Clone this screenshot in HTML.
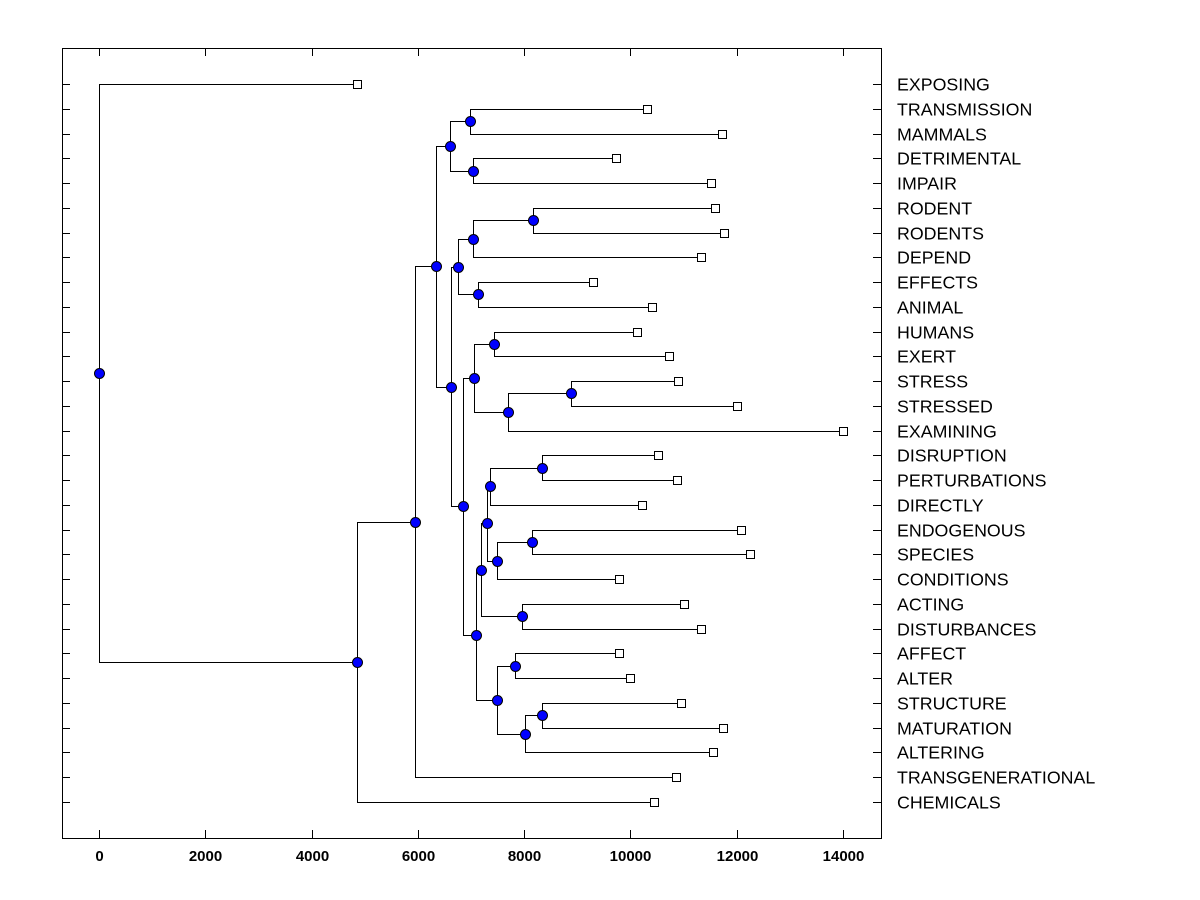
<!DOCTYPE html>
<html><head><meta charset="utf-8"><style>
html,body{margin:0;padding:0;background:#fff;}
svg{display:block;font-family:"Liberation Sans",Arial,sans-serif;}
</style></head><body>
<svg id="chart" width="1200" height="900" xmlns="http://www.w3.org/2000/svg"></svg>
<script>
// Leaf labels (top to bottom) and their distance values
const leafLabels = ["EXPOSING","TRANSMISSION","MAMMALS","DETRIMENTAL","IMPAIR","RODENT","RODENTS","DEPEND","EFFECTS","ANIMAL","HUMANS","EXERT","STRESS","STRESSED","EXAMINING","DISRUPTION","PERTURBATIONS","DIRECTLY","ENDOGENOUS","SPECIES","CONDITIONS","ACTING","DISTURBANCES","AFFECT","ALTER","STRUCTURE","MATURATION","ALTERING","TRANSGENERATIONAL","CHEMICALS"];
const leafValues = [4855,10312,11724,9729,11517,11592,11761,11329,9296,10406,10124,10726,10896,12006,14000,10519,10877,10218,12081,12251,9786,11008,11329,9786,9992,10952,11743,11555,10858,10444];
// Internal nodes: [name, value, childA, childB]; children are leaf indices (numbers) or node names
const nodeNames = ["F","G","D","L","J","K","H","O","Q","P","M","X","V","Y","W","T","U","R","Z","AB","AA","S","N","I","E","C","B","A","root"];
const nodeValues = [6982,7038,6605,8167,7038,7132,6756,7433,8882,7697,7057,8336,7358,8148,7490,7301,7960,7188,7828,8336,8017,7490,7094,6850,6624,6342,5946,4855,0];
const nodeChildren = [[1,2],[3,4],["F","G"],[5,6],["L",7],[8,9],["J","K"],[10,11],[12,13],["Q",14],["O","P"],[15,16],["X",17],[18,19],["Y",20],["V","W"],[21,22],["T","U"],[23,24],[25,26],["AB",27],["Z","AA"],["R","S"],["M","N"],["H","I"],["D","E"],["C",28],["B",29],[0,"A"]];
const xTicks = [0,2000,4000,6000,8000,10000,12000,14000];

const NS="http://www.w3.org/2000/svg";
const svg=document.getElementById('chart');
const L=62,R=881,T=48,B=838;
const xs=v=>99+v*(843-99)/14000;
const ys=i=>84+i*(802-84)/29;
function mk(tag,attrs,parent){const e=document.createElementNS(NS,tag);for(const k in attrs)e.setAttribute(k,attrs[k]);(parent||svg).appendChild(e);return e;}

const frame=mk('rect',{x:L+0.5,y:T+0.5,width:R-L,height:B-T,fill:'none',stroke:'#000','stroke-width':1,'shape-rendering':'crispEdges'});



xTicks.forEach(v=>{
  const x=Math.round(xs(v))+0.5;
  const t1=mk('line',{x1:x,x2:x,y1:B,y2:B-8,stroke:'#000','shape-rendering':'crispEdges'});
  
  
  const t2=mk('line',{x1:x,x2:x,y1:T,y2:T+8,stroke:'#000','shape-rendering':'crispEdges'});
  
  
  const lb=mk('text',{x:x,y:B+23,'text-anchor':'middle','font-size':15,'font-weight':'bold'});
  lb.textContent=v;
  
  
});

const pos={};
leafLabels.forEach((n,i)=>{pos[i]={x:xs(leafValues[i]),y:ys(i)};});
nodeNames.forEach((n,k)=>{
  const [a,b]=nodeChildren[k];
  const pa=pos[a],pb=pos[b];
  pos[n]={x:xs(nodeValues[k]),y:(pa.y+pb.y)/2};
});
const g=mk('g',{});


nodeNames.forEach((n,k)=>{
  const p=pos[n];
  nodeChildren[k].forEach(c=>{
    const q=pos[c];
    const px=Math.round(p.x)+0.5,py=Math.round(p.y)+0.5,qx=Math.round(q.x)+0.5,qy=Math.round(q.y)+0.5;
    const ln=mk('polyline',{points:`${px},${py} ${px},${qy} ${qx},${qy}`,fill:'none',stroke:'#000','stroke-width':1,'shape-rendering':'crispEdges'},g);
    
    
  });
});
leafLabels.forEach((n,i)=>{
  const y=Math.round(ys(i))+0.5;
  const t=mk('line',{x1:L,x2:L+8,y1:y,y2:y,stroke:'#000','shape-rendering':'crispEdges'});
  
  
  const t2=mk('line',{x1:R-8,x2:R,y1:y,y2:y,stroke:'#000','shape-rendering':'crispEdges'});
  
  
  const lb=mk('text',{x:897,y:y+6,'font-size':17.8});
  lb.textContent=n;
  
  
  const p=pos[i];
  const sq=mk('rect',{x:Math.round(p.x)-3.5,y:Math.round(p.y)-3.5,width:8,height:8,fill:'#fff',stroke:'#000','shape-rendering':'crispEdges'});
  
  
});
nodeNames.forEach(n=>{
  const p=pos[n];
  const c=mk('circle',{cx:Math.round(p.x)+0.5,cy:Math.round(p.y)+0.5,r:5,fill:'#0000ff',stroke:'#000','stroke-width':1});
  
  
});
</script>
</body></html>
